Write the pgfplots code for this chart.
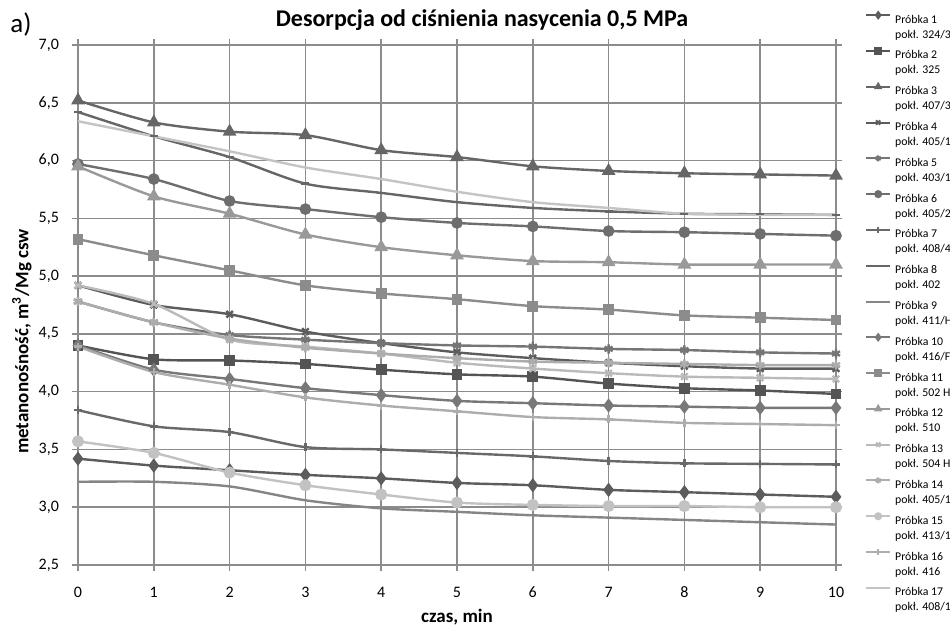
\documentclass[border=0pt]{standalone}
\usepackage{pgfplots}
\usepackage{pgfplotstable}
\pgfplotsset{compat=1.18}
\usepackage{fontspec}
\setmainfont{Carlito}

\definecolor{gridc}{HTML}{8C8C8C}
\definecolor{c1}{gray}{0.36}
\definecolor{c2}{gray}{0.33}
\definecolor{c3}{gray}{0.40}
\definecolor{c4}{gray}{0.36}
\definecolor{c5}{gray}{0.46}
\definecolor{c6}{gray}{0.43}
\definecolor{c7}{gray}{0.41}
\definecolor{c8}{gray}{0.40}
\definecolor{c9}{gray}{0.52}
\definecolor{c10}{gray}{0.47}
\definecolor{c11}{gray}{0.55}
\definecolor{c12}{gray}{0.60}
\definecolor{c13}{gray}{0.73}
\definecolor{c14}{gray}{0.68}
\definecolor{c15}{gray}{0.76}
\definecolor{c16}{gray}{0.68}
\definecolor{c17}{gray}{0.77}

\pgfplotstableread{
x p1 p2 p3 p4 p5 p6 p7 p8 p9 p10 p11 p12 p13 p14 p15 p16 p17
0 3.42 4.40 6.52 4.92 4.78 5.97 3.84 6.42 3.22 4.40 5.32 5.95 4.92 4.78 3.57 4.39 6.34
1 3.36 4.28 6.33 4.75 4.60 5.84 3.70 6.21 3.22 4.19 5.18 5.69 4.76 4.60 3.47 4.17 6.21
2 3.32 4.27 6.25 4.67 4.49 5.65 3.65 6.03 3.18 4.11 5.05 5.54 4.45 4.46 3.30 4.06 6.08
3 3.28 4.24 6.22 4.52 4.45 5.58 3.52 5.80 3.06 4.03 4.92 5.36 4.39 4.38 3.19 3.95 5.94
4 3.25 4.19 6.09 4.42 4.42 5.51 3.50 5.72 2.99 3.97 4.85 5.25 4.33 4.33 3.11 3.88 5.84
5 3.21 4.15 6.03 4.34 4.40 5.46 3.47 5.64 2.96 3.92 4.80 5.18 4.25 4.29 3.04 3.83 5.73
6 3.19 4.13 5.95 4.29 4.39 5.43 3.44 5.59 2.93 3.90 4.74 5.13 4.20 4.26 3.02 3.78 5.64
7 3.15 4.07 5.91 4.25 4.37 5.39 3.40 5.56 2.91 3.88 4.71 5.12 4.16 4.25 3.01 3.76 5.59
8 3.13 4.03 5.89 4.22 4.36 5.38 3.38 5.54 2.89 3.87 4.66 5.10 4.13 4.24 3.01 3.73 5.54
9 3.11 4.01 5.88 4.20 4.34 5.365 3.375 5.535 2.87 3.86 4.64 5.10 4.12 4.23 3.00 3.72 5.53
10 3.09 3.98 5.87 4.20 4.33 5.35 3.37 5.53 2.85 3.86 4.62 5.10 4.11 4.23 3.00 3.71 5.53
}\data

\pgfplotsset{ser/.style={line width=1.2pt, smooth, tension=0.45, mark options={solid}}}

\begin{document}
\begin{tikzpicture}
\begin{axis}[
  name=ax,
  at={(0,0)}, anchor=south west,
  width=379pt, height=260pt, scale only axis,
  xmin=0, xmax=10, ymin=2.5, ymax=7,
  xtick={0,1,2,3,4,5,6,7,8,9,10},
  ytick={2.5,3,3.5,4,4.5,5,5.5,6,6.5,7},
  grid=major,
  major grid style={gridc, line width=0.75pt},
  axis line style={gridc, line width=0.75pt},
  tick align=outside, major tick length=3pt,
  tick style={gridc, line width=0.75pt},
  /pgf/number format/assume math mode=true,
  yticklabel style={/pgf/number format/fixed, /pgf/number format/fixed zerofill, /pgf/number format/precision=1, /pgf/number format/use comma, xshift=-3pt},
  xticklabel style={yshift=-4.5pt},
  ticklabel style={font=\fontsize{8}{10}\selectfont},
  xlabel={czas, min},
  xlabel style={at={(axis description cs:0.5,0)}, yshift=-26pt, anchor=center, font=\bfseries\fontsize{9.5}{12}\selectfont},
  ylabel={metanonośność, m\textsuperscript{3}/Mg csw},
  ylabel style={at={(axis description cs:-0.074,0.43)}, anchor=center, font=\bfseries\fontsize{9.5}{12}\selectfont},
  title={Desorpcja od ciśnienia nasycenia 0,5 MPa},
  title style={at={(axis description cs:0.533,1)}, anchor=base, yshift=3pt, inner sep=0pt, font=\bfseries\fontsize{12}{14}\selectfont},
  legend style={at={(axis description cs:1.038,1.067)}, anchor=north west, draw=none, fill=none,
    inner sep=0pt, row sep=0.6pt, font=\fontsize{5.9}{7.5}\selectfont,
    cells={anchor=north west, align=left, inner sep=0pt},
    /tikz/every even column/.append style={column sep=2.5pt}},
  legend image code/.code={\draw[mark repeat=2,mark phase=2,yshift=-2.3pt] plot coordinates {(0pt,0pt) (6pt,0pt) (12pt,0pt)};},
  every legend image post/.style={mark size=1.5pt, line width=1pt},
]
\addplot[ser, color=c1, mark=diamond*, mark size=2.6pt] table[x=x,y=p1]{\data};
\addlegendentry{Próbka 1\\pokł. 324/3}
\addplot[ser, color=c2, mark=square*, mark size=2.1pt] table[x=x,y=p2]{\data};
\addlegendentry{Próbka 2\\pokł. 325}
\addplot[ser, color=c3, mark=triangle*, mark size=2.8pt] table[x=x,y=p3]{\data};
\addlegendentry{Próbka 3\\pokł. 407/3}
\addplot[ser, color=c4, mark=x, mark size=2.3pt] table[x=x,y=p4]{\data};
\addlegendentry{Próbka 4\\pokł. 405/1}
\addplot[ser, color=c5, mark=asterisk, mark size=2.3pt] table[x=x,y=p5]{\data};
\addlegendentry{Próbka 5\\pokł. 403/1}
\addplot[ser, color=c6, mark=*, mark size=2.3pt] table[x=x,y=p6]{\data};
\addlegendentry{Próbka 6\\pokł. 405/2}
\addplot[ser, color=c7, mark=+, mark size=2pt] table[x=x,y=p7]{\data};
\addlegendentry{Próbka 7\\pokł. 408/4}
\addplot[ser, color=c8, mark=-, mark size=2pt] table[x=x,y=p8]{\data};
\addlegendentry{Próbka 8\\pokł. 402}
\addplot[ser, color=c9] table[x=x,y=p9]{\data};
\addlegendentry{Próbka 9\\pokł. 411/H}
\addplot[ser, color=c10, mark=diamond*, mark size=2.6pt] table[x=x,y=p10]{\data};
\addlegendentry{Próbka 10\\pokł. 416/F}
\addplot[ser, color=c11, mark=square*, mark size=2.1pt] table[x=x,y=p11]{\data};
\addlegendentry{Próbka 11\\pokł. 502 H}
\addplot[ser, color=c12, mark=triangle*, mark size=2.8pt] table[x=x,y=p12]{\data};
\addlegendentry{Próbka 12\\pokł. 510}
\addplot[ser, color=c13, mark=x, mark size=2.3pt] table[x=x,y=p13]{\data};
\addlegendentry{Próbka 13\\pokł. 504 H}
\addplot[ser, color=c14, mark=asterisk, mark size=2.3pt] table[x=x,y=p14]{\data};
\addlegendentry{Próbka 14\\pokł. 405/1}
\addplot[ser, color=c15, mark=*, mark size=2.4pt] table[x=x,y=p15]{\data};
\addlegendentry{Próbka 15\\pokł. 413/1}
\addplot[ser, color=c16, mark=+, mark size=2pt] table[x=x,y=p16]{\data};
\addlegendentry{Próbka 16\\pokł. 416}
\addplot[ser, color=c17] table[x=x,y=p17]{\data};
\addlegendentry{Próbka 17\\pokł. 408/1}
\end{axis}
\node[anchor=base west, inner sep=0pt, font=\fontsize{13.5}{16}\selectfont] at ([xshift=-34pt,yshift=6pt]ax.north west) {a)};
\pgfresetboundingbox
\path[use as bounding box] (-39pt,-33pt) rectangle (436pt,282.5pt);
\end{tikzpicture}
\end{document}
